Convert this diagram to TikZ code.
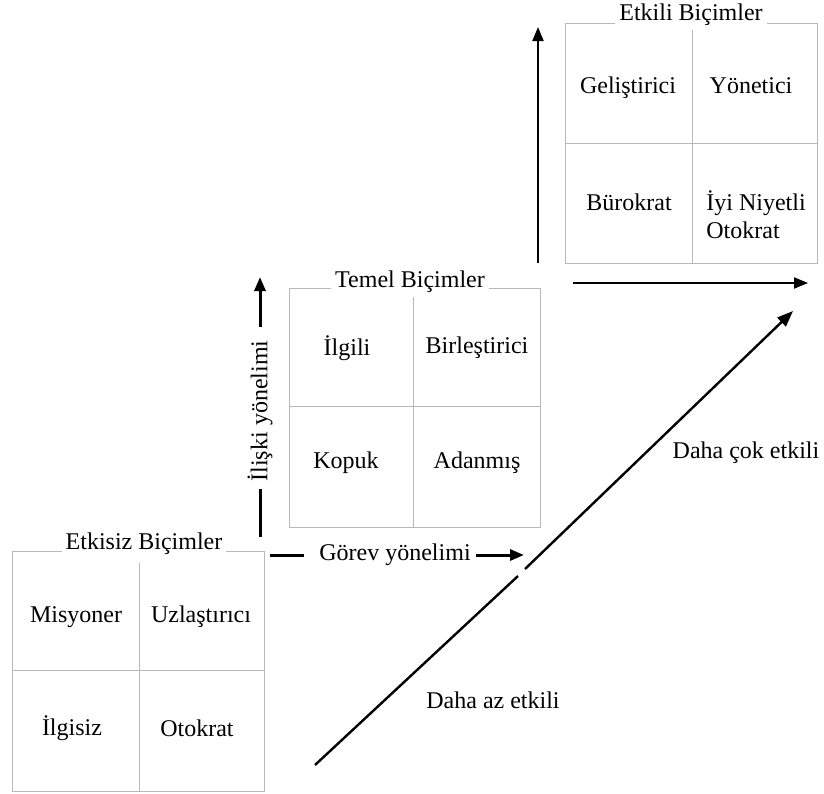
\documentclass[tikz,border=0pt]{standalone}
\usepackage{fontspec}
\setmainfont{Liberation Serif}
\usetikzlibrary{arrows.meta}
\begin{document}
\begin{tikzpicture}[x=0.5pt,y=-0.5pt,
  grid/.style={draw=black!28, line width=0.5pt},
  boxtitle/.style={fill=white, inner sep=2pt, font=\fontsize{12}{14}\selectfont},
  cell/.style={font=\fontsize{12}{14}\selectfont, inner sep=1pt},
  lbl/.style={fill=white, inner sep=1.5pt, font=\fontsize{12}{14}\selectfont},
  thickarrow/.style={line width=1.5pt, -{Triangle[length=7pt,width=5.5pt]}},
  thickline/.style={line width=1.5pt},
  thinarrow/.style={line width=1pt, -{Triangle[length=7pt,width=5.5pt]}},
  diagline/.style={line width=1.2pt},
]
\useasboundingbox (0,0) rectangle (824,793);

% --- Etkisiz Biçimler grid
\draw[grid] (12,551) rectangle (264,791);
\draw[grid] (139,563) -- (139,791);
\draw[grid] (12,670) -- (264,670);
\node[boxtitle] (t1) at (144,544) {Etkisiz Biçimler};
\node[cell] (misyoner) at (76,617) {Misyoner};
\node[cell] (uzlastirici) at (201,617) {Uzlaştırıcı};
\node[cell] (ilgisiz) at (72,728) {İlgisiz};
\node[cell] (otokrat) at (197,728) {Otokrat};

% --- Temel Biçimler grid
\draw[grid] (289,288) rectangle (540,527);
\draw[grid] (413,296) -- (413,527);
\draw[grid] (289,406) -- (540,406);
\node[boxtitle] (t2) at (410,282) {Temel Biçimler};
\node[cell] (ilgili) at (347,348) {İlgili};
\node[cell] (birlestirici) at (477,348) {Birleştirici};
\node[cell] (kopuk) at (346,463) {Kopuk};
\node[cell] (adanmis) at (477,463) {Adanmış};

% --- Etkili Biçimler grid
\draw[grid] (565,23) rectangle (817,263);
\draw[grid] (692,25) -- (692,263);
\draw[grid] (565,143) -- (817,143);
\node[boxtitle] (t3) at (691,15) {Etkili Biçimler};
\node[cell] (gelistirici) at (628,88) {Geliştirici};
\node[cell] (yonetici) at (751,86) {Yönetici};
\node[cell] (burokrat) at (629,202) {Bürokrat};
\node[cell, align=left] (iyiniyetli) at (756,215) {İyi Niyetli\\Otokrat};

% --- relationship axis
\coordinate (rb) at (260,537);
\coordinate (rt) at (260,277);
\node[lbl, rotate=90] (rlbl) at (260,411) {İlişki yönelimi};
\draw[thickline, shorten >=2pt] (rb) -- (rlbl.west);
\draw[thickarrow, shorten <=5pt] (rlbl.east) -- (rt);

% --- task axis
\coordinate (gl) at (270,555);
\coordinate (gr) at (524,555);
\node[lbl] (glbl) at (395,555) {Görev yönelimi};
\draw[thickline, shorten >=6pt] (gl) -- (glbl.west);
\draw[thickarrow, shorten <=1pt] (glbl.east) -- (gr);

% --- effective-style axes
\coordinate (eb) at (538,263);
\coordinate (et) at (538,27);
\draw[thinarrow] (eb) -- (et);
\coordinate (hl) at (573,283);
\coordinate (hr) at (808,283);
\draw[thinarrow] (hl) -- (hr);

% --- effectiveness diagonal
\coordinate (d0) at (315,765);
\coordinate (d1) at (518,576);
\coordinate (d2) at (525,569);
\coordinate (d3) at (793,311);
\draw[diagline] (d0) -- (d1);
\draw[diagline, -{Triangle[length=8pt,width=6pt]}] (d2) -- (d3);
\node[cell] (azetkili) at (493,700) {Daha az etkili};
\node[cell] (cooketkili) at (746,453) {Daha çok etkili};
\end{tikzpicture}
\end{document}
